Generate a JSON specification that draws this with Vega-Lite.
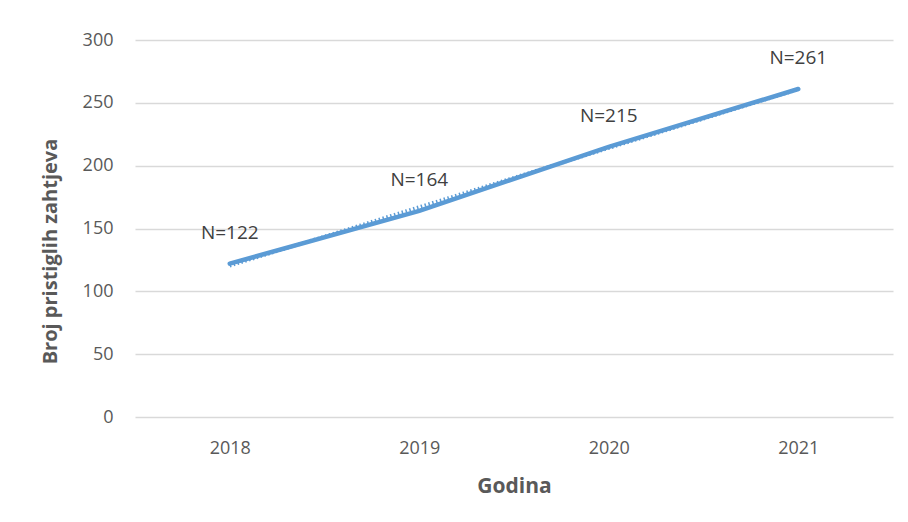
{
  "$schema": "https://vega.github.io/schema/vega-lite/v6.json",
  "autosize": "none",
  "width": 758,
  "height": 377,
  "padding": {"left": 135, "top": 40, "right": 15, "bottom": 105},
  "background": "white",
  "config": {
    "view": {"stroke": null},
    "font": "Open Sans",
    "axis": {"labelFont": "Open Sans", "titleFont": "Open Sans", "labelColor": "#595959", "titleColor": "#595959"}
  },
  "data": {"values": [
    {"godina": 2018, "n": 122, "label": "N=122"},
    {"godina": 2019, "n": 164, "label": "N=164"},
    {"godina": 2020, "n": 215, "label": "N=215"},
    {"godina": 2021, "n": 261, "label": "N=261"}
  ]},
  "encoding": {
    "x": {"field": "godina", "type": "quantitative", "scale": {"domain": [2017.5, 2021.5], "nice": false, "zero": false},
      "axis": {"title": "Godina", "values": [2018, 2019, 2020, 2021], "format": "d", "grid": false, "labelFontSize": 18, "labelPadding": 22, "titleFontSize": 21, "titleFontWeight": "bold", "titlePadding": 18, "domain": false, "ticks": false}},
    "y": {"field": "n", "type": "quantitative", "scale": {"domain": [0, 300]},
      "axis": {"title": "Broj pristiglih zahtjeva", "values": [0, 50, 100, 150, 200, 250, 300], "labelFontSize": 18, "labelPadding": 22, "titleFontSize": 20, "titleFontWeight": "bold", "titleX": -85, "titleY": 211, "titleBaseline": "middle", "domain": false, "ticks": false, "gridColor": "#d9d9d9", "gridWidth": 1.3}}
  },
  "layer": [
    {
      "transform": [{"regression": "n", "on": "godina", "extent": [2018, 2021]}],
      "mark": {"type": "line", "color": "#5b9bd5", "strokeWidth": 3.5, "strokeDash": [1.5, 2.5]}
    },
    {
      "mark": {"type": "line", "color": "#5b9bd5", "strokeWidth": 4.5, "strokeCap": "round"}
    },
    {
      "mark": {"type": "text", "dy": -31, "fontSize": 19, "color": "#404040", "font": "Open Sans"},
      "encoding": {"text": {"field": "label"}}
    }
  ]
}
